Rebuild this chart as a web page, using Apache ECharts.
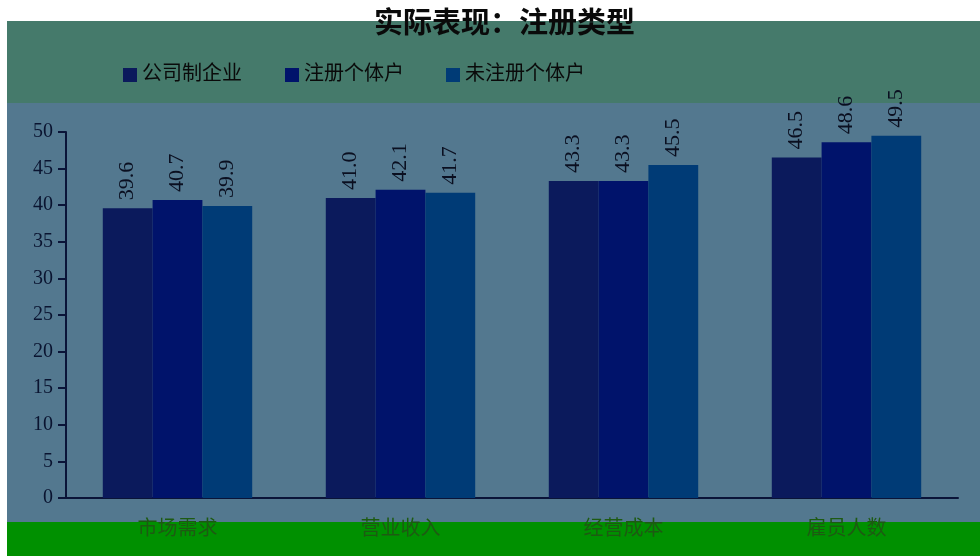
<!DOCTYPE html>
<html>
<head>
<meta charset="utf-8">
<script src="https://cdn.jsdelivr.net/npm/echarts@6/dist/echarts.min.js"></script>
<style>
  html, body { margin: 0; padding: 0; background: #fff; }
  #cht { width: 980px; height: 556px; }
</style>
</head>
<body>
<div id="cht"></div>
<script>
const categories = ['市场需求', '营业收入', '经营成本', '雇员人数'];
const seriesNames = ['公司制企业', '注册个体户', '未注册个体户'];
const companyVals = [39.6, 41.0, 43.3, 46.5];
const registeredVals = [40.7, 42.1, 43.3, 48.6];
const unregisteredVals = [39.9, 41.7, 45.5, 49.5];
const yTicks = [0, 5, 10, 15, 20, 25, 30, 35, 40, 45, 50];

const cht = echarts.init(document.getElementById('cht'));

const serif = '"Liberation Serif", "Noto Sans CJK SC", serif';
const colors = ['#0b1a5c', '#00136b', '#003b76'];
const legendLefts = [118, 280, 441];

const label = {
  show: true,
  position: 'top',
  rotate: 90,
  align: 'left',
  verticalAlign: 'middle',
  distance: 8,
  color: '#0a0f20',
  fontFamily: serif,
  fontSize: 22,
  formatter: (p) => p.value.toFixed(1),
};

const option = {
  backgroundColor: '#ffffff',
  graphic: [
    { type: 'rect', z: -10, shape: { x: 7, y: 21, width: 973, height: 82 }, style: { fill: '#457a6b' } },
    { type: 'rect', z: -10, shape: { x: 7, y: 103, width: 973, height: 419 }, style: { fill: '#53788f' } },
    { type: 'rect', z: -10, shape: { x: 7, y: 522, width: 973, height: 34 }, style: { fill: '#009000' } },
  ],
  title: {
    text: '实际表现：注册类型',
    left: 369,
    top: 6,
    textStyle: { fontFamily: serif, fontSize: 29, fontWeight: 'bold', color: '#0a0a0a' },
  },
  // one legend per item so each sits where the reference puts it
  legend: seriesNames.map((name, i) => ({
    data: [name],
    top: 60,
    left: legendLefts[i],
    itemWidth: 14,
    itemHeight: 14,
    itemGap: 8,
    icon: 'rect',
    textStyle: { fontFamily: serif, fontSize: 20, color: '#0a0a0a' },
  })),
  grid: { left: 66, right: 22, top: 132, bottom: 58 },
  xAxis: {
    type: 'category',
    data: categories,
    axisLine: { lineStyle: { color: '#0a1438', width: 2 } },
    axisTick: { show: false },
    axisLabel: { color: '#1d5a12', fontFamily: serif, fontSize: 20, margin: 22 },
  },
  yAxis: {
    type: 'value',
    min: yTicks[0],
    max: yTicks[yTicks.length - 1],
    interval: 5,
    axisLine: { show: true, lineStyle: { color: '#0a1438', width: 2 } },
    axisTick: { show: true, length: 8, lineStyle: { color: '#0a1438', width: 2 } },
    splitLine: { show: false },
    axisLabel: { color: '#0a1430', fontFamily: serif, fontSize: 20, margin: 13 },
  },
  series: [
    { name: seriesNames[0], type: 'bar', data: companyVals, barGap: 0, barCategoryGap: '33%', itemStyle: { color: colors[0] }, label },
    { name: seriesNames[1], type: 'bar', data: registeredVals, itemStyle: { color: colors[1] }, label },
    { name: seriesNames[2], type: 'bar', data: unregisteredVals, itemStyle: { color: colors[2] }, label },
  ],
};

cht.setOption(option);
window.onresize = () => cht.resize();
</script>
</body>
</html>
